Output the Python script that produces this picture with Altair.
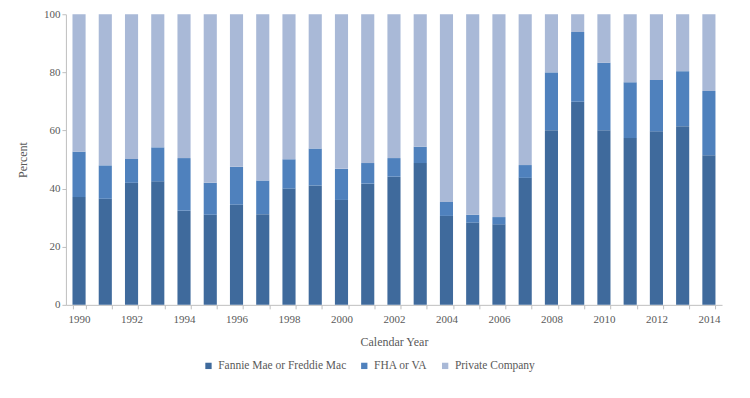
import altair as alt
import pandas as pd

years = list(range(1990, 2015))
# top of each stacked segment (percent)
fannie = [37.1, 36.5, 42.0, 42.5, 32.4, 31.0, 34.5, 31.2, 40.0, 41.1, 36.1, 41.7, 44.1, 48.8,
          30.6, 28.3, 27.7, 43.7, 60.1, 69.9, 60.1, 57.4, 59.7, 61.5, 51.5]
fha_top = [52.7, 48.0, 50.2, 54.2, 50.5, 42.0, 47.5, 42.8, 50.1, 53.8, 46.8, 48.8, 50.5, 54.4,
           35.4, 31.0, 30.2, 48.1, 80.0, 93.9, 83.3, 76.6, 77.4, 80.4, 73.6]
series = ["Fannie Mae or Freddie Mac", "FHA or VA", "Private Company"]
colors = ["#3F6A9C", "#4F81BD", "#A9B9D7"]

rows = []
for y, f, t in zip(years, fannie, fha_top):
    rows.append({"year": y, "series": series[0], "value": f, "ord": 0})
    rows.append({"year": y, "series": series[1], "value": round(t - f, 2), "ord": 1})
    rows.append({"year": y, "series": series[2], "value": round(100 - t, 2), "ord": 2})
df = pd.DataFrame(rows)

font = "Liberation Serif"
grey = "#595959"

chart = alt.Chart(df).mark_bar().encode(
    x=alt.X("year:O",
            scale=alt.Scale(paddingInner=0.5, paddingOuter=0.25),
            axis=alt.Axis(title="Calendar Year", labelAngle=0,
                          labelExpr="datum.value % 2 == 0 ? datum.label : ''",
                          tickBand="extent", tickSize=4, labelPadding=5,
                          titlePadding=12)),
    y=alt.Y("value:Q", stack="zero",
            scale=alt.Scale(domain=[0, 100]),
            axis=alt.Axis(title="Percent", values=[0, 20, 40, 60, 80, 100], grid=False,
                          tickSize=4, titlePadding=14)),
    color=alt.Color("series:N", sort=series,
                    scale=alt.Scale(domain=series, range=colors),
                    legend=alt.Legend(title=None, orient="none", direction="horizontal",
                                      legendX=137, legendY=346, symbolType="square",
                                      symbolSize=40, columnPadding=12, labelFontSize=11.5,
                                      labelFont=font, labelColor=grey, symbolStrokeWidth=0)),
    order=alt.Order("ord:Q", sort="ascending"),
).properties(
    width=657, height=291,
    autosize=alt.AutoSizeParams(type="none"),
    padding={"left": 58, "top": 6, "right": 20, "bottom": 80},
).configure_view(stroke=None).configure_axis(
    domainColor="#BFBFBF", tickColor="#BFBFBF", labelColor=grey, titleColor=grey,
    labelFont=font, titleFont=font, labelFontSize=11, titleFontSize=12,
    titleFontWeight="normal",
)

chart.save("out.html", embed_options={"renderer": "svg", "actions": False})
